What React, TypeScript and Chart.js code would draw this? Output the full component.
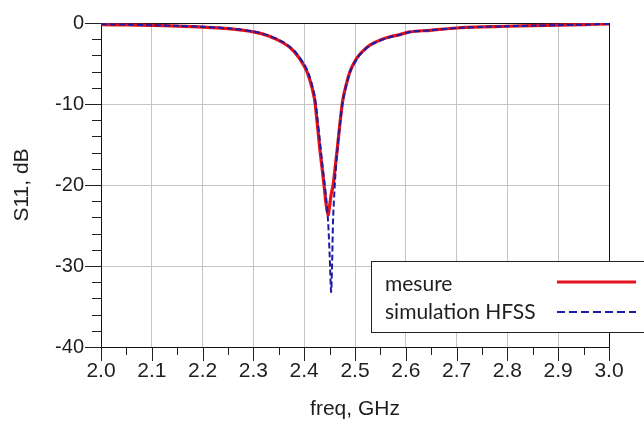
import React, { useEffect, useRef } from "react";
import { Chart, registerables } from "chart.js";

Chart.register(...registerables);

const freq = [
  2.0, 2.05, 2.1, 2.15, 2.2, 2.25, 2.3, 2.33, 2.36, 2.38, 2.4, 2.41, 2.42, 2.425, 2.431, 2.435, 2.439,
  2.443, 2.447, 2.45, 2.453, 2.455, 2.457, 2.461, 2.465, 2.47, 2.476, 2.484, 2.492, 2.504, 2.515,
  2.53, 2.55, 2.569, 2.59, 2.608, 2.648, 2.7, 2.75, 2.8, 2.85, 2.9, 2.95, 3.0,
];

const mesure = [
  -0.2, -0.25, -0.3, -0.38, -0.5, -0.7, -1.1, -1.6, -2.5, -3.5, -5.3, -6.8, -9.3, -12.0, -15.7, -17.8, -20.0,
  -22.3, -23.7, -22.6, -21.2, -20.6, -20.0, -17.8, -15.6, -12.6, -9.5, -7.3, -5.7, -4.3, -3.5,
  -2.7, -2.1, -1.7, -1.4, -1.1, -0.9, -0.62, -0.48, -0.4, -0.33, -0.27, -0.2, -0.1,
];

const simulation = [
  -0.15, -0.2, -0.27, -0.35, -0.47, -0.66, -1.05, -1.55, -2.4, -3.4, -5.1, -6.5, -8.8, -11.2, -14.6, -17.0, -19.2,
  -21.5, -24.5, -28.5, -33.2, -29.5, -24.0, -19.2, -15.9, -12.8, -9.7, -7.4, -5.8, -4.4, -3.55,
  -2.75, -2.15, -1.75, -1.42, -1.12, -0.9, -0.62, -0.48, -0.4, -0.33, -0.27, -0.2, -0.1,
];

const xTicks = [2.0, 2.1, 2.2, 2.3, 2.4, 2.5, 2.6, 2.7, 2.8, 2.9, 3.0];
const yTicks = [0, -10, -20, -30, -40];
const legendLabels = ["mesure", "simulation HFSS"];
const xTitle = "freq, GHz";
const yTitle = "S11, dB";

const RED = "#e3121c";
const BLUE = "#1c1ca6";
const GRID = "#c4c4c4";
const TEXT = "#1e1e1e";

const decorPlugin = {
  id: "decor",
  afterDraw(chart: any) {
    const { ctx, chartArea } = chart;
    const xs = chart.scales.x;
    const ys = chart.scales.y;
    ctx.save();
    // minor & major tick marks
    ctx.strokeStyle = "#222";
    ctx.lineWidth = 1;
    ctx.beginPath();
    for (let v = 0; v >= -40; v -= 2) {
      const y = Math.round(ys.getPixelForValue(v)) + 0.5;
      const major = v % 10 === 0;
      ctx.moveTo(chartArea.left - (major ? 16 : 9), y);
      ctx.lineTo(chartArea.left, y);
    }
    for (let i = 0; i <= 20; i++) {
      const v = 2 + i * 0.05;
      const x = Math.round(xs.getPixelForValue(v)) + 0.5;
      const major = i % 2 === 0;
      ctx.moveTo(x, chartArea.bottom);
      ctx.lineTo(x, chartArea.bottom + (major ? 14 : 8));
    }
    ctx.stroke();

    // axis titles
    ctx.fillStyle = TEXT;
    ctx.font = "21px 'Liberation Sans', Arial, sans-serif";
    ctx.textAlign = "center";
    ctx.textBaseline = "middle";
    ctx.fillText(xTitle, (chartArea.left + chartArea.right) / 2, 409);
    ctx.save();
    ctx.translate(22, (chartArea.top + chartArea.bottom) / 2);
    ctx.rotate(-Math.PI / 2);
    ctx.fillText(yTitle, 0, 0);
    ctx.restore();

    // legend box
    const bx = 371.5, by = 261.5, bw = 300, bh = 71;
    ctx.fillStyle = "#fff";
    ctx.fillRect(bx, by, bw, bh);
    ctx.strokeStyle = "#222";
    ctx.lineWidth = 1;
    ctx.strokeRect(bx, by, bw, bh);
    ctx.fillStyle = TEXT;
    ctx.font = "21px Lato, 'Open Sans', sans-serif";
    ctx.textAlign = "left";
    ctx.textBaseline = "alphabetic";
    ctx.fillText(legendLabels[0], 385, 291);
    ctx.fillText(legendLabels[1], 385, 319);
    ctx.lineWidth = 3;
    ctx.strokeStyle = RED;
    ctx.beginPath();
    ctx.moveTo(557, 282);
    ctx.lineTo(636, 282);
    ctx.stroke();
    ctx.lineWidth = 2;
    ctx.strokeStyle = BLUE;
    ctx.setLineDash([8, 4]);
    ctx.beginPath();
    ctx.moveTo(557, 312);
    ctx.lineTo(636, 312);
    ctx.stroke();
    ctx.setLineDash([]);
    ctx.restore();
  },
};

export default function App() {
  const ref = useRef<HTMLCanvasElement>(null);
  useEffect(() => {
    document.body.style.margin = "0";
    const canvas = ref.current!;
    const chart = new Chart(canvas, {
      type: "line",
      data: {
        datasets: [
          {
            label: legendLabels[1],
            data: freq.map((f, i) => ({ x: f, y: simulation[i] })),
            borderColor: BLUE,
            borderWidth: 2,
            borderDash: [6, 3],
            pointRadius: 0,
            tension: 0.3,
            fill: false,
          },
          {
            label: legendLabels[0],
            data: freq.map((f, i) => ({ x: f, y: mesure[i] })),
            borderColor: RED,
            borderWidth: 3.2,
            pointRadius: 0,
            tension: 0.3,
            fill: false,
          },
        ],
      },
      options: {
        animation: false,
        responsive: false,
        devicePixelRatio: 1,
        layout: { padding: { left: 0, top: 23, right: 35, bottom: 0 } },
        plugins: { legend: { display: false }, tooltip: { enabled: false } },
        scales: {
          x: {
            type: "linear",
            min: 2,
            max: 3,
            afterBuildTicks: (s: any) => {
              s.ticks = xTicks.map((v) => ({ value: v }));
            },
            afterFit: (s: any) => {
              s.height = 79;
              s.paddingLeft = 0;
              s.paddingRight = 0;
              s.paddingTop = 0;
              s.paddingBottom = 0;
            },
            ticks: {
              color: TEXT,
              font: { family: "'Liberation Sans', Arial, sans-serif", size: 21 },
              padding: 12,
              maxRotation: 0,
              autoSkip: false,
              callback: (v: any) => Number(v).toFixed(1),
            },
            grid: {
              drawTicks: false,
              color: (c: any) => (c.tick && Math.abs(c.tick.value - 3) < 1e-6 ? "#111" : GRID),
            },
            border: { color: "#111", width: 1 },
          },
          y: {
            type: "linear",
            min: -40,
            max: 0,
            afterBuildTicks: (s: any) => {
              s.ticks = yTicks.map((v) => ({ value: v }));
            },
            afterFit: (s: any) => {
              s.width = 101;
              s.paddingLeft = 0;
              s.paddingRight = 0;
              s.paddingTop = 0;
              s.paddingBottom = 0;
            },
            ticks: {
              color: TEXT,
              font: { family: "'Liberation Sans', Arial, sans-serif", size: 20 },
              padding: 17,
              callback: (v: any) => String(v),
            },
            grid: {
              drawTicks: false,
              color: (c: any) => (c.tick && c.tick.value === 0 ? "#111" : GRID),
            },
            border: { color: "#111", width: 1 },
          },
        },
      },
      plugins: [decorPlugin],
    } as any);
    return () => chart.destroy();
  }, []);
  return <canvas ref={ref} width={644} height={426} style={{ display: "block" }} />;
}
